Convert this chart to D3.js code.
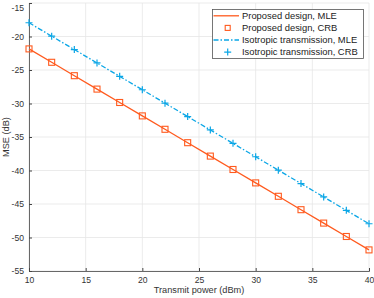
<!DOCTYPE html>
<html><head><meta charset="utf-8">
<script src="https://cdn.jsdelivr.net/npm/d3@7"></script>
<style>body{margin:0;background:#fff}svg{display:block}text{font-family:"Liberation Sans",Arial,sans-serif}</style>
</head><body>
<svg id="c" width="374" height="298"></svg>
<script>
const power = [10,12,14,16,18,20,22,24,26,28,30,32,34,36,38,40];
const proposedMLE = [-21.85,-23.85,-25.85,-27.85,-29.85,-31.85,-33.85,-35.85,-37.85,-39.85,-41.85,-43.85,-45.85,-47.85,-49.85,-51.85];
const proposedCRB = [-21.85,-23.85,-25.85,-27.85,-29.85,-31.85,-33.85,-35.85,-37.85,-39.85,-41.85,-43.85,-45.85,-47.85,-49.85,-51.85];
const isoMLE = [-17.95,-19.95,-21.95,-23.95,-25.95,-27.95,-29.95,-31.95,-33.95,-35.95,-37.95,-39.95,-41.95,-43.95,-45.95,-47.95];
const isoCRB = [-17.95,-19.95,-21.95,-23.95,-25.95,-27.95,-29.95,-31.95,-33.95,-35.95,-37.95,-39.95,-41.95,-43.95,-45.95,-47.95];
const xTicks = [10,15,20,25,30,35,40];
const yTicks = [-15,-20,-25,-30,-35,-40,-45,-50,-55];
const legendLabels = ["Proposed design, MLE","Proposed design, CRB","Isotropic transmission, MLE","Isotropic transmission, CRB"];

const orange = "#ff5a1e", blue = "#0aa6e6";
const svg = d3.select("#c");
const L=29,R=369,T=3,B=271;
const x = d3.scaleLinear().domain([10,40]).range([L,R]);
const y = d3.scaleLinear().domain([-55,-15]).range([B,T]);

// grid
const g = svg.append("g");
g.selectAll(".gx").data(xTicks).join("line").attr("x1",d=>x(d)).attr("x2",d=>x(d)).attr("y1",T).attr("y2",B).attr("stroke","#e6e6e6").attr("stroke-width",0.8);
g.selectAll(".gy").data(yTicks).join("line").attr("x1",L).attr("x2",R).attr("y1",d=>y(d)).attr("y2",d=>y(d)).attr("stroke","#e6e6e6").attr("stroke-width",0.8);

// axes
const xa = svg.append("g").attr("transform",`translate(0,${B})`).call(d3.axisBottom(x).tickValues(xTicks).tickSize(-3).tickPadding(6).tickFormat(d3.format("d")));
const ya = svg.append("g").attr("transform",`translate(${L},0)`).call(d3.axisLeft(y).tickValues(yTicks).tickSize(-3).tickPadding(5).tickFormat(d=>d3.format("d")(d).replace("−","-")));
[xa,ya].forEach(a=>{a.select(".domain").attr("stroke","#444").attr("stroke-width",0.8);a.selectAll(".tick line").attr("stroke","#444");a.selectAll("text").attr("font-size",8.6).attr("fill","#333").attr("font-family","Liberation Sans, Arial, sans-serif");});
ya.selectAll(".tick text").filter(d=>d===-15).attr("dy","0.9em");

const line = d3.line().x(d=>x(d[0])).y(d=>y(d[1]));
svg.append("path").datum(power.map((p,i)=>[p,proposedMLE[i]])).attr("d",line).attr("fill","none").attr("stroke",orange).attr("stroke-width",1.3);
svg.append("path").datum(power.map((p,i)=>[p,isoMLE[i]])).attr("d",line).attr("fill","none").attr("stroke",blue).attr("stroke-width",1.3).attr("stroke-dasharray","5,2,1.5,2");

svg.selectAll(".sq").data(power.map((p,i)=>[p,proposedCRB[i]])).join("rect").attr("x",d=>x(d[0])-3).attr("y",d=>y(d[1])-3).attr("width",6).attr("height",6).attr("fill","none").attr("stroke",orange).attr("stroke-width",1.1);
svg.selectAll(".pl").data(power.map((p,i)=>[p,isoCRB[i]])).join("path").attr("d",d=>`M${x(d[0])-3.5},${y(d[1])}h7M${x(d[0])},${y(d[1])-3.5}v7`).attr("stroke",blue).attr("stroke-width",1.2);

// labels
svg.append("text").attr("x",(L+R)/2+0).attr("y",293).attr("text-anchor","middle").attr("font-size",9.2).attr("fill","#333").text("Transmit power (dBm)");
svg.append("text").attr("transform",`translate(9,${(T+B)/2}) rotate(-90)`).attr("text-anchor","middle").attr("font-size",9.2).attr("fill","#333").text("MSE (dB)");

// legend
const lg = svg.append("g");
lg.append("rect").attr("x",212.5).attr("y",9.5).attr("width",151).attr("height",49).attr("fill","#fff").attr("stroke","#555").attr("stroke-width",0.8);
const ly = i=>15.8+i*12.1;
legendLabels.forEach((t,i)=>{
  lg.append("text").attr("x",242).attr("y",ly(i)+3.3).attr("font-size",9.4).attr("fill","#222").text(t);
});
lg.append("line").attr("x1",213.5).attr("x2",239).attr("y1",ly(0)).attr("y2",ly(0)).attr("stroke",orange).attr("stroke-width",1.3);
lg.append("rect").attr("x",227.7-2.5).attr("y",ly(1)-2.5).attr("width",5).attr("height",5).attr("fill","none").attr("stroke",orange).attr("stroke-width",1.1);
lg.append("line").attr("x1",213.5).attr("x2",239).attr("y1",ly(2)).attr("y2",ly(2)).attr("stroke",blue).attr("stroke-width",1.3).attr("stroke-dasharray","5,2,1.5,2");
lg.append("path").attr("d",`M${227.7-3.5},${ly(3)}h7M227.7,${ly(3)-3.5}v7`).attr("stroke",blue).attr("stroke-width",1.2);
</script>
</body></html>
